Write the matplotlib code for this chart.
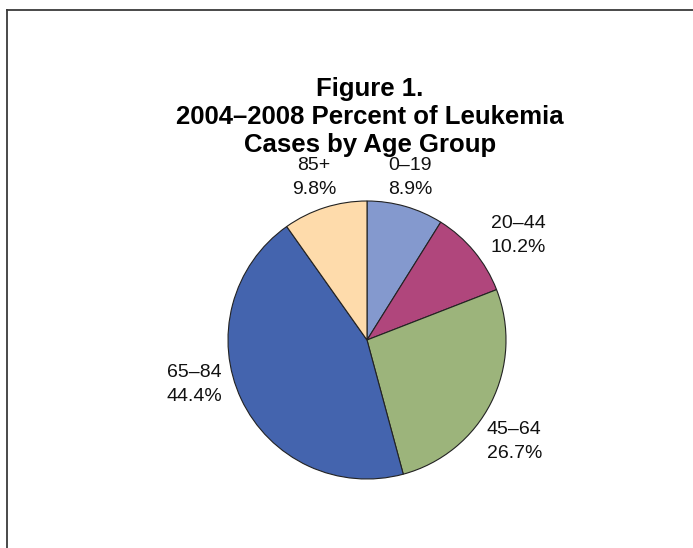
import matplotlib
matplotlib.use("Agg")
import matplotlib.pyplot as plt
from matplotlib.lines import Line2D

plt.rcParams['font.family'] = ['Liberation Sans', 'DejaVu Sans']

categories = ["0–19", "20–44", "45–64", "65–84", "85+"]
values = [8.9, 10.2, 26.7, 44.4, 9.8]
colors = ["#8499CE", "#B0467C", "#9CB47B", "#4464AE", "#FEDBAB"]
label_pos = [(0.31, 1.17), (1.09, 0.75), (1.06, -0.73), (-1.24, -0.32), (-0.38, 1.17)]

W, H = 693, 548
fig = plt.figure(figsize=(W / 100, H / 100), dpi=100)

# frame
fig.add_artist(Line2D([7 / W, 1.0], [1 - 10 / H, 1 - 10 / H], transform=fig.transFigure,
                      color="#3a3a3a", lw=1.3))
fig.add_artist(Line2D([7 / W, 7 / W], [0.0, 1 - 10 / H], transform=fig.transFigure,
                      color="#3a3a3a", lw=1.3))

fig.text(370 / W, 1 - 117 / H, "Figure 1.\n2004–2008 Percent of Leukemia\nCases by Age Group",
         ha="center", va="center", fontsize=18.5, fontweight="bold", linespacing=1.2)

cx, cy, r = 367, 340, 139
half = 200
ax = fig.add_axes([(cx - half) / W, (H - cy - half) / H, 2 * half / W, 2 * half / H])
ax.pie(values, colors=colors, startangle=90, counterclock=False, radius=1.0,
       wedgeprops=dict(edgecolor="#222222", linewidth=0.8))
ax.set_xlim(-half / r, half / r)
ax.set_ylim(-half / r, half / r)
ax.set_aspect("equal")
ax.axis("off")

for cat, val, (lx, ly) in zip(categories, values, label_pos):
    ax.text(lx, ly, f"{cat}\n{val:.1f}%", ha="center", va="center", fontsize=14,
            linespacing=1.5, color="#111111")

fig.savefig("out.png", dpi=100)
